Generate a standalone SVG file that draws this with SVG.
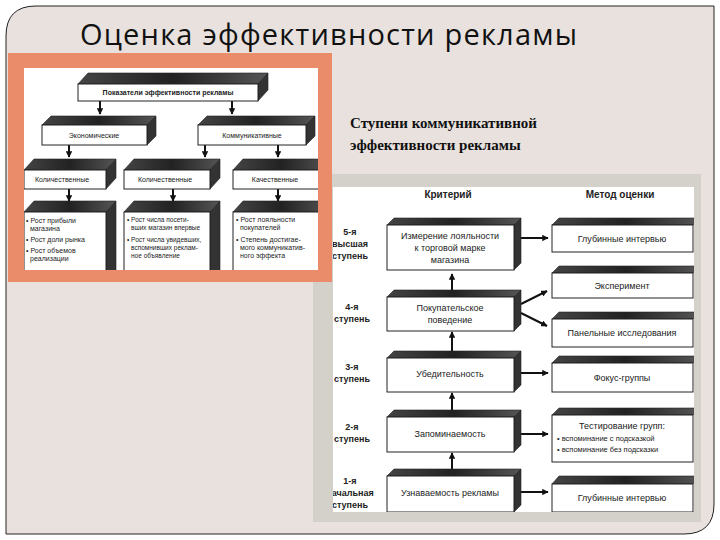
<svg xmlns="http://www.w3.org/2000/svg" width="720" height="540" viewBox="0 0 720 540">
<style>
.t{font-family:"Liberation Sans",Arial,sans-serif;fill:#222}
.s{font-size:7px}
.m{font-size:9px}
.b{font-weight:bold}
.front{fill:#fff;stroke:#222;stroke-width:1}
.top{fill:url(#gt);stroke:#222;stroke-width:0.6}
.side{fill:#333;stroke:#222;stroke-width:0.6}
.ln{stroke:#111;stroke-width:2;fill:none}
</style>
<defs>
<linearGradient id="gt" x1="0" x2="1" y1="0" y2="0"><stop offset="0" stop-color="#444"/><stop offset="0.5" stop-color="#222"/><stop offset="1" stop-color="#555"/></linearGradient>
<marker id="ar" viewBox="0 0 10 10" refX="9" refY="5" markerWidth="3.2" markerHeight="3.2" orient="auto"><path d="M0,0L10,5L0,10z" fill="#111"/></marker>
<clipPath id="cl"><rect x="24" y="68" width="294" height="202"/></clipPath>
<clipPath id="cr"><rect x="333" y="187" width="361" height="325"/></clipPath>
</defs>
<rect width="720" height="540" fill="#fff"/>
<path d="M36,6H714V504Q714,534 684,534H6V36Q6,6 36,6Z" fill="#e8e1dd" stroke="#222" stroke-width="1"/>
<text x="80" y="45" style="font-family:'Open Sans',sans-serif;font-size:29px;fill:#111" textLength="497">Оценка эффективности рекламы</text>
<text x="350" y="128" style="font-family:'Liberation Serif',serif;font-size:15px;font-weight:bold;fill:#111">Ступени коммуникативной</text>
<text x="350" y="150" style="font-family:'Liberation Serif',serif;font-size:15px;font-weight:bold;fill:#111">эффективности рекламы</text>

<rect x="313" y="174" width="388" height="348" fill="#d4d1ca"/>
<rect x="333" y="187" width="361" height="325" fill="#fff"/>
<rect x="8" y="53" width="324" height="229" fill="#ea8c6a"/>
<rect x="24" y="68" width="294" height="202" fill="#fff"/>
<g clip-path="url(#cl)">
<g id="connectors-left">
<path class="ln" d="M100,101V114" marker-end="url(#ar)"/>
<path class="ln" d="M232,101V114" marker-end="url(#ar)"/>
<path class="ln" d="M69,145V157" marker-end="url(#ar)"/>
<path class="ln" d="M205,145V157" marker-end="url(#ar)"/>
<path class="ln" d="M278,145V157" marker-end="url(#ar)"/>
<path class="ln" d="M69,189V201" marker-end="url(#ar)"/>
<path class="ln" d="M173,189V201" marker-end="url(#ar)"/>
<path class="ln" d="M278,189V201" marker-end="url(#ar)"/>
</g>
<g id="n-top"><polygon class="top" points="78,84 88,73 268,73 258,84"/><polygon class="side" points="258,84 268,73 268,90 258,101"/><rect class="front" x="78" y="84" width="180" height="17"/><text class="t s b" x="168" y="95" text-anchor="middle">Показатели эффективности рекламы</text></g>
<g id="n-econ"><polygon class="top" points="42,125 51,116 156,116 147,125"/><polygon class="side" points="147,125 156,116 156,136 147,145"/><rect class="front" x="42" y="125" width="105" height="20"/><text class="t s" x="94" y="138" text-anchor="middle">Экономические</text></g>
<g id="n-comm"><polygon class="top" points="198,125 207,116 315,116 306,125"/><polygon class="side" points="306,125 315,116 315,136 306,145"/><rect class="front" x="198" y="125" width="108" height="20"/><text class="t s" x="252" y="138" text-anchor="middle">Коммуникативные</text></g>
<g id="n-q1"><polygon class="top" points="24,170 34,159 116,159 106,170"/><polygon class="side" points="106,170 116,159 116,178 106,189"/><rect class="front" x="24" y="170" width="82" height="19"/><text class="t s" x="62" y="182" text-anchor="middle">Количественные</text></g>
<g id="n-q2"><polygon class="top" points="124,170 134,159 220,159 210,170"/><polygon class="side" points="210,170 220,159 220,178 210,189"/><rect class="front" x="124" y="170" width="86" height="19"/><text class="t s" x="165" y="182" text-anchor="middle">Количественные</text></g>
<g id="n-q3"><polygon class="top" points="233,170 243,159 330,159 320,170"/><polygon class="side" points="320,170 330,159 330,178 320,189"/><rect class="front" x="233" y="170" width="87" height="19"/><text class="t s" x="275" y="182" text-anchor="middle">Качественные</text></g>
<g id="n-l1"><polygon class="top" points="24,212 34,201 116,201 106,212"/><polygon class="side" points="106,212 116,201 116,270 106,280"/><rect class="front" x="24" y="212" width="82" height="70"/><text class="t s" x="26" y="223">• Рост прибыли</text><text class="t s" x="30" y="231">магазина</text><text class="t s" x="26" y="242">• Рост доли рынка</text><text class="t s" x="26" y="253">• Рост объемов</text><text class="t s" x="30" y="261">реализации</text></g>
<g id="n-l2"><polygon class="top" points="124,212 134,201 220,201 210,212"/><polygon class="side" points="210,212 220,201 220,270 210,280"/><rect class="front" x="124" y="212" width="86" height="70"/><text class="t" style="font-size:6.5px" x="127" y="222">• Рост числа посети-</text><text class="t" style="font-size:6.5px" x="131" y="230">вших магазин впервые</text><text class="t" style="font-size:6.5px" x="127" y="242">• Рост числа увидевших,</text><text class="t" style="font-size:6.5px" x="131" y="250">вспомнивших реклам-</text><text class="t" style="font-size:6.5px" x="131" y="258">ное объявление</text></g>
<g id="n-l3"><polygon class="top" points="233,212 243,201 330,201 320,212"/><polygon class="side" points="320,212 330,201 330,270 320,280"/><rect class="front" x="233" y="212" width="87" height="70"/><text class="t s" x="236" y="222">• Рост лояльности</text><text class="t s" x="240" y="230">покупателей</text><text class="t s" x="236" y="242">• Степень достигае-</text><text class="t s" x="240" y="250">мого коммуникатив-</text><text class="t s" x="240" y="258">ного эффекта</text></g>
</g>

<g clip-path="url(#cr)">
<text class="t b" x="448" y="198" style="font-size:10px" text-anchor="middle">Критерий</text>
<text class="t b" x="620" y="198" style="font-size:10px" text-anchor="middle">Метод оценки</text>
<g class="t b m" text-anchor="middle">
<text x="350" y="235">5-я</text><text x="350" y="247">высшая</text><text x="350" y="259">ступень</text>
<text x="352" y="310">4-я</text><text x="352" y="322">ступень</text>
<text x="352" y="370">3-я</text><text x="352" y="382">ступень</text>
<text x="352" y="430">2-я</text><text x="352" y="442">ступень</text>
<text x="350" y="484">1-я</text><text x="350" y="496">начальная</text><text x="350" y="508">ступень</text>
</g>
<g id="connectors-right">
<path class="ln" d="M452,297V274" marker-end="url(#ar)"/>
<path class="ln" d="M452,357V332" marker-end="url(#ar)"/>
<path class="ln" d="M452,416V393" marker-end="url(#ar)"/>
<path class="ln" d="M452,474V453" marker-end="url(#ar)"/>
<path class="ln" d="M520,238H548" marker-end="url(#ar)"/>
<path class="ln" d="M521,304L547,291" marker-end="url(#ar)"/>
<path class="ln" d="M521,313L547,326" marker-end="url(#ar)"/>
<path class="ln" d="M520,373H548" marker-end="url(#ar)"/>
<path class="ln" d="M520,434H548" marker-end="url(#ar)"/>
<path class="ln" d="M520,492H548" marker-end="url(#ar)"/>
</g>
<g id="c5"><polygon class="top" points="387,225 394,218 521,218 514,225"/><polygon class="side" points="514,225 521,218 521,263 514,270"/><rect class="front" x="387" y="225" width="127" height="45"/><text class="t m" x="450" y="239" text-anchor="middle">Измерение лояльности</text><text class="t m" x="450" y="251" text-anchor="middle">к торговой марке</text><text class="t m" x="450" y="263" text-anchor="middle">магазина</text></g>
<g id="c4"><polygon class="top" points="387,297 394,290 521,290 514,297"/><polygon class="side" points="514,297 521,290 521,324 514,331"/><rect class="front" x="387" y="297" width="127" height="34"/><text class="t m" x="450" y="311" text-anchor="middle">Покупательское</text><text class="t m" x="450" y="323" text-anchor="middle">поведение</text></g>
<g id="c3"><polygon class="top" points="387,358 394,351 521,351 514,358"/><polygon class="side" points="514,358 521,351 521,385 514,392"/><rect class="front" x="387" y="358" width="127" height="34"/><text class="t m" x="450" y="377" text-anchor="middle">Убедительность</text></g>
<g id="c2"><polygon class="top" points="387,417 394,410 521,410 514,417"/><polygon class="side" points="514,417 521,410 521,445 514,452"/><rect class="front" x="387" y="417" width="127" height="35"/><text class="t m" x="450" y="437" text-anchor="middle">Запоминаемость</text></g>
<g id="c1"><polygon class="top" points="387,476 394,469 521,469 514,476"/><polygon class="side" points="514,476 521,469 521,505 514,512"/><rect class="front" x="387" y="476" width="127" height="36"/><text class="t m" x="450" y="496" text-anchor="middle">Узнаваемость рекламы</text></g>
<g id="m1"><polygon class="top" points="552,225 559,218 700,218 693,225"/><rect class="front" x="552" y="225" width="141" height="27"/><text class="t m" x="622" y="242" text-anchor="middle">Глубинные интервью</text></g>
<g id="m2"><polygon class="top" points="552,273 559,266 700,266 693,273"/><rect class="front" x="552" y="273" width="141" height="25"/><text class="t m" x="622" y="289" text-anchor="middle">Эксперимент</text></g>
<g id="m3"><polygon class="top" points="552,319 559,312 700,312 693,319"/><rect class="front" x="552" y="319" width="141" height="28"/><text class="t m" x="622" y="336" text-anchor="middle">Панельные исследования</text></g>
<g id="m4"><polygon class="top" points="552,363 559,356 700,356 693,363"/><rect class="front" x="552" y="363" width="141" height="29"/><text class="t m" x="622" y="381" text-anchor="middle">Фокус-группы</text></g>
<g id="m5"><polygon class="top" points="552,415 559,408 700,408 693,415"/><rect class="front" x="552" y="415" width="141" height="47"/><text class="t m" x="622" y="429" text-anchor="middle">Тестирование групп:</text><text class="t" style="font-size:7.5px" x="557" y="441">• вспоминание с подсказкой</text><text class="t" style="font-size:7.5px" x="557" y="452">• вспоминание без подсказки</text></g>
<g id="m6"><polygon class="top" points="552,484 559,476 700,476 693,484"/><rect class="front" x="552" y="484" width="141" height="28"/><text class="t m" x="622" y="501" text-anchor="middle">Глубинные интервью</text></g>
</g>
</svg>
